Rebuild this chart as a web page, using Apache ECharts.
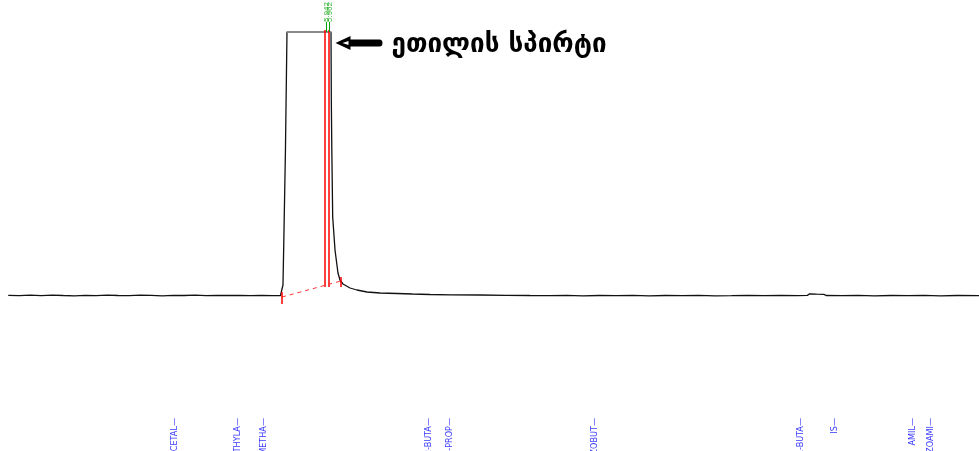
<!DOCTYPE html>
<html>
<head>
<meta charset="utf-8">
<script src="https://cdn.jsdelivr.net/npm/echarts@6/dist/echarts.min.js"></script>
<style>
html,body{margin:0;padding:0;background:#fff;}
#chart{width:979px;height:451px;}
</style>
</head>
<body>
<div id="chart"></div>
<script>
// Retention time (min) and detector signal (arbitrary units)
const signalT = [
  0.15,0.35,0.55,0.75,0.95,1.15,1.35,1.55,1.75,1.95,2.15,2.35,2.55,2.75,2.95,3.15,3.35,3.55,3.75,3.95,
  4.10,4.13,4.16,4.35,4.55,4.75,4.95,5.10,5.127,
  5.145,5.164,5.19,5.218,6.018,
  6.024,6.033,6.049,6.091,6.145,6.182,6.236,6.364,6.49,6.673,6.91,7.218,7.5,7.818,8.2,8.727,9.2,9.636,
  10.0,10.3,10.6,10.9,11.2,11.5,11.8,12.1,12.4,12.7,13.0,13.3,13.6,13.9,14.2,14.5,14.68,14.72,14.85,
  14.98,15.02,15.3,15.6,15.9,16.2,16.5,16.8,17.1,17.4,17.8
];
const signalV = [
  0.6,0.3,0.8,0.4,0.9,0.5,0.2,0.7,0.4,0.8,0.5,0.3,0.9,0.6,0.2,0.7,0.5,0.8,0.3,0.6,
  0.5,-1.5,0.5,0.7,0.4,0.6,0.3,0.5,0,
  11,66,146,264,264,
  196,146,79,46,23,16,12,8,6,4,3,2.5,2.0,1.5,1.2,1.0,0.7,0.5,
  0.4,0.7,0.2,0.5,0.3,0.6,0.2,0.5,0.3,0.6,0.2,0.4,0.7,0.3,0.5,0.4,0.6,2.2,1.8,
  1.6,0.5,0.3,0.6,0.2,0.5,0.3,0.6,0.2,0.5,0.3,0.4
];
// Compound names along the time axis
const compoundNames = ['ACETAL','ETHYLA','METHA','2-BUTA','1-PROP','IZOBUT','1-BUTA','IS','AMIL','IZOAMI'];
const compoundTimes = [3.18,4.33,4.80,7.80,8.18,10.82,14.56,15.18,16.60,16.93];
// Retention time labels of the integrated peak
const peakLabels = ['5.942','5.962'];
const peakLabelTimes = [5.935,6.005];
// Integration marks
const integrationTimes = [5.909,5.982];
const integrationStart = [5.127,-1];
const integrationEnd = [6.2,15];
const annotationText = 'ეთილის სპირტი';

const LABEL_Y = -122;
const TOP_Y = 274;
const CLIP_V = 264;

const chart = echarts.init(document.getElementById('chart'), null, {renderer:'canvas'});

const signalData = signalT.map((t,i)=>[t, signalV[i]]);
const compoundData = compoundNames.map((n,i)=>({value:[compoundTimes[i], LABEL_Y], name:n}));
const peakData = peakLabels.map((n,i)=>({value:[peakLabelTimes[i], TOP_Y], name:n}));

// clipped top of the peak (grey), taken from the signal arrays
const clipIdx = signalV.map((v,i)=>v>=CLIP_V?i:-1).filter(i=>i>=0);
const clipFrom = [signalT[clipIdx[0]], CLIP_V];
const clipTo = [signalT[clipIdx[clipIdx.length-1]], CLIP_V];

const red = {color:'#ff0000',type:'solid',width:1.5};
const markLines = [];
integrationTimes.forEach(t=>markLines.push([{coord:[t,9],lineStyle:red},{coord:[t,266]}]));
peakLabelTimes.forEach(t=>markLines.push([{coord:[t-0.01,CLIP_V],lineStyle:{color:'#00a000',type:'solid',width:1}},{coord:[t-0.01,TOP_Y]}]));
markLines.push([{coord:integrationStart.slice(),lineStyle:{type:[4,4],color:'#ff3333',width:1}},{coord:integrationEnd.slice()}]);
markLines.push([{coord:[integrationStart[0],integrationStart[1]+5],lineStyle:red},{coord:[integrationStart[0],integrationStart[1]-7]}]);
markLines.push([{coord:[integrationEnd[0],integrationEnd[1]+4],lineStyle:red},{coord:[integrationEnd[0],integrationEnd[1]-6]}]);

chart.setOption({
  animation:false,
  backgroundColor:'#ffffff',
  grid:{left:0,right:0,top:0,bottom:0},
  xAxis:{type:'value',min:0,max:17.8,show:false},
  yAxis:{type:'value',min:-155,max:296,show:false},
  series:[
    {
      type:'line',
      data:signalData,
      showSymbol:false,
      symbol:'none',
      lineStyle:{width:1.3,color:'#111'},
      itemStyle:{color:'#111'},
      z:3,
      markLine:{
        silent:true,
        symbol:['none','none'],
        label:{show:false},
        lineStyle:{color:'#8a8a8a',width:2,type:'solid'},
        data:[[{coord:clipFrom},{coord:clipTo}]]
      }
    },
    {
      type:'scatter',
      data:compoundData,
      symbolSize:0,
      label:{
        show:true,
        formatter:p=>p.name+'\u2014',
        rotate:90,
        position:'inside',
        align:'right',
        verticalAlign:'middle',
        color:'#0000ff',
        fontSize:9,
        fontFamily:'Liberation Sans Narrow, Arial Narrow, DejaVu Sans Condensed, Liberation Sans, sans-serif'
      }
    },
    {
      type:'scatter',
      data:peakData,
      symbolSize:0,
      z:5,
      itemStyle:{color:'#ff0000'},
      label:{
        show:true,
        formatter:p=>p.name,
        rotate:90,
        position:'inside',
        align:'left',
        verticalAlign:'middle',
        color:'#00a000',
        fontSize:8,
        fontFamily:'Liberation Sans Narrow, Liberation Sans, sans-serif'
      },
      markLine:{
        silent:true,
        symbol:['none','none'],
        label:{show:false},
        lineStyle:{color:'#ff0000',width:1.5,type:'solid'},
        z:6,
        data:markLines
      },
      markPoint:{
        silent:true,
        data:[{
          coord:[6.527,253],
          symbol:'path://M0,7 L15,0 L15,3.5 L44,3.5 Q47,3.5 47,7 Q47,10.5 44,10.5 L15,10.5 L15,14 Z M7,7 L13,9 L13,5 Z',
          symbolSize:[47,14],
          itemStyle:{color:'#000'},
          label:{
            show:true,
            position:'right',
            distance:9,
            offset:[0,2],
            formatter:annotationText,
            color:'#000',
            fontSize:26,
            fontWeight:'bold',
            fontFamily:'DejaVu Sans, sans-serif'
          }
        }]
      }
    }
  ]
});
</script>
</body>
</html>
